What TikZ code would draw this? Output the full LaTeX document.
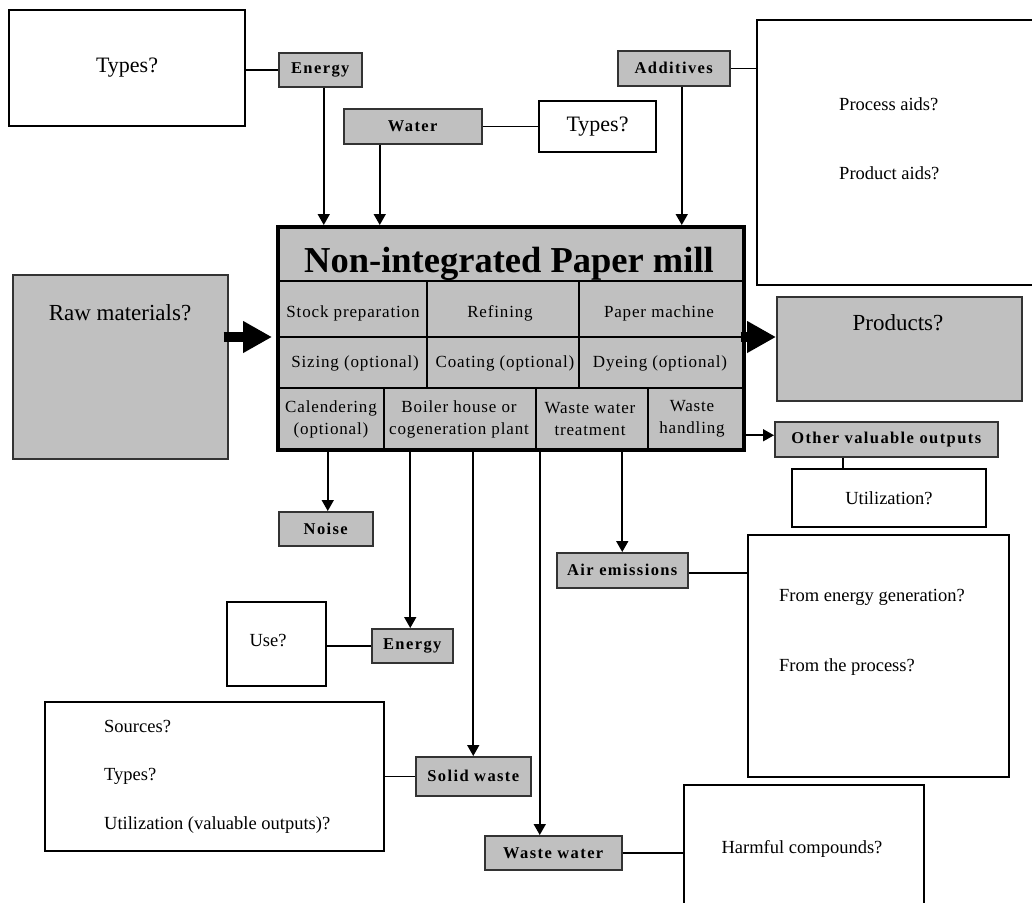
\documentclass[tikz,border=0pt]{standalone}
\usepackage{fontspec}
\setmainfont{Liberation Serif}
\newfontfamily\lblfont[LetterSpace=8.5]{Liberation Serif}
\newfontfamily\cellfont[LetterSpace=5]{Liberation Serif}
\usetikzlibrary{arrows.meta,calc}
\definecolor{boxgray}{HTML}{C0C0C0}
\begin{document}
\begin{tikzpicture}[x=1pt,y=-1pt,
  graybox/.style={draw=black!80,line width=1.5pt,fill=boxgray,inner sep=0pt,anchor=north west,
    font=\lblfont\bfseries\fontsize{16.5}{19}\selectfont},
  whitebox/.style={draw=black,line width=2pt,fill=white,inner sep=0pt,anchor=north west},
  q/.style={font=\fontsize{18.5}{22}\selectfont,inner sep=0pt},
  qbig/.style={font=\fontsize{22}{25}\selectfont,inner sep=0pt},
  qhuge/.style={font=\fontsize{23}{26}\selectfont,inner sep=0pt},
  cell/.style={font=\cellfont\fontsize{17}{22}\selectfont,inner sep=0pt,align=center},
  arr/.style={line width=1.7pt,-{Triangle[length=11pt,width=12pt]}},
  link/.style={line width=1.5pt},
  fat/.style={line width=10pt,-{Triangle[length=29pt,width=30pt]}},
]
\useasboundingbox (0,0) rectangle (1032,902);
\fill[white] (0,0) rectangle (1032,902);

% inputs
\node[whitebox,qbig,minimum width=236pt,minimum height=116pt] (typesA) at (8,9) {Types?};
\node[graybox,minimum width=83pt,minimum height=34pt] (energyin) at (278,52) {Energy};
\node[graybox,minimum width=138pt,minimum height=35pt] (water) at (343,108) {Water};
\node[whitebox,qbig,minimum width=117pt,minimum height=51pt] (typesW) at (538,100) {Types?};
\node[graybox,minimum width=112pt,minimum height=35pt] (additives) at (617,50) {Additives};
\node[whitebox,minimum width=282pt,minimum height=265pt] (aids) at (756,19) {};
\node[q,anchor=west] (pa) at (839,104) {Process aids?};
\node[q,anchor=west] (pd) at (839,173) {Product aids?};

% raw materials and products
\node[graybox,minimum width=215pt,minimum height=184pt] (raw) at (12,274) {};
\node[qhuge] (rawt) at (120,313) {Raw materials?};
\node[graybox,minimum width=245pt,minimum height=104pt] (products) at (776,296) {};
\node[qhuge] (prodt) at (898,323) {Products?};

% mill
\node[draw=black,line width=3.5pt,fill=boxgray,inner sep=0pt,anchor=north west,
  minimum width=466pt,minimum height=223pt] (mill) at (276,225) {};
\draw[line width=2pt] (276,281) -- (742,281) (276,337) -- (742,337) (276,388) -- (742,388);
\draw[line width=2pt] (427,281) -- (427,388) (579,281) -- (579,388)
  (384,388) -- (384,448) (536,388) -- (536,448) (648,388) -- (648,448);
\node[font=\bfseries\fontsize{36.5}{40}\selectfont,inner sep=0pt] (title) at (509,264) {Non-integrated Paper mill};
\node[cell] (c1) at (353,313) {Stock preparation};
\node[cell] (c2) at (500,313) {Refining};
\node[cell] (c3) at (659,313) {Paper machine};
\node[cell] (c4) at (355,363.5) {Sizing (optional)};
\node[cell] (c5) at (505,363.5) {Coating (optional)};
\node[cell] (c6) at (660,363.5) {Dyeing (optional)};
\node[cell] (c7) at (331,419) {Calendering\\(optional)};
\node[cell] (c8) at (459,419) {Boiler house or\\cogeneration plant};
\node[cell] (c9) at (590,419) {Waste water\\treatment};
\node[cell] (c10) at (692,419) {Waste\\handling};

% outputs
\node[graybox,minimum width=223pt,minimum height=35pt] (other) at (774,421) {Other valuable outputs};
\node[whitebox,q,minimum width=194pt,minimum height=58pt] (util) at (791,468) {Utilization?};
\node[graybox,minimum width=94pt,minimum height=34pt] (noise) at (278,511) {Noise};
\node[graybox,minimum width=81pt,minimum height=34pt] (energyout) at (371,628) {Energy};
\node[whitebox,minimum width=99pt,minimum height=84pt] (use) at (226,601) {};
\node[q] (uset) at (268,640) {Use?};
\node[graybox,minimum width=131pt,minimum height=35pt] (air) at (556,552) {Air emissions};
\node[whitebox,minimum width=261pt,minimum height=242pt] (fromb) at (747,534) {};
\node[q,anchor=west] (fe) at (779,597) {From energy generation?};
\node[q,anchor=west] (fp) at (779,667) {From the process?};
\node[whitebox,minimum width=339pt,minimum height=149pt] (sources) at (44,701) {};
\node[q,anchor=west] (s1) at (104,726) {Sources?};
\node[q,anchor=west] (s2) at (104,776) {Types?};
\node[q,anchor=west] (s3) at (104,825) {Utilization (valuable outputs)?};
\node[graybox,minimum width=115pt,minimum height=39pt] (solid) at (415,756) {Solid waste};
\node[graybox,minimum width=137pt,minimum height=34pt] (ww) at (484,835) {Waste water};
\node[whitebox,minimum width=240pt,minimum height=140pt] (harm) at (683,784) {};
\node[q] (harmt) at (802,849) {Harmful compounds?};

% fat arrows
\coordinate (ay) at (0,337);
\draw[fat] ([xshift=-5pt]raw.east |- ay) -- ([xshift=-4pt]mill.west |- ay);
\draw[fat] ([xshift=-5pt]mill.east |- ay) -- (products.west |- ay);

% input arrows
\draw[arr] ([xshift=3.5pt]energyin.south) -- ([xshift=3.5pt]energyin.south |- mill.north);
\draw[arr] ([xshift=-33pt]water.south) -- ([xshift=-33pt]water.south |- mill.north);
\draw[arr] ([xshift=8pt]additives.south) -- ([xshift=8pt]additives.south |- mill.north);

% output arrows
\draw[arr] ([xshift=2pt]noise.north |- mill.south) -- ([xshift=2pt]noise.north);
\draw[arr] ([xshift=-2pt]energyout.north |- mill.south) -- ([xshift=-2pt]energyout.north);
\draw[arr] (solid.north |- mill.south) -- (solid.north);
\draw[arr] ([xshift=-13.5pt]ww.north |- mill.south) -- ([xshift=-13.5pt]ww.north);
\draw[arr] (air.north |- mill.south) -- (air.north);
\coordinate (ot) at ([yshift=4pt]other.west);
\draw[arr] (mill.east |- ot) -- (ot);

% plain links
\draw[link] (typesA.east |- energyin.west) -- (energyin.west);
\draw[link] (water.east) -- (typesW.west |- water.east);
\draw[link] (additives.east) -- (additives.east -| aids.west);
\draw[link] ([xshift=-43.5pt]other.south) -- ([xshift=-43.5pt]other.south |- util.north);
\draw[link] (use.east |- energyout.west) -- (energyout.west);
\draw[link] (sources.east |- solid.west) -- (solid.west);
\draw[link] ([yshift=-2.5pt]air.east) -- ([yshift=-2.5pt]air.east -| fromb.west);
\draw[link] (ww.east) -- (ww.east -| harm.west);
\end{tikzpicture}
\end{document}
